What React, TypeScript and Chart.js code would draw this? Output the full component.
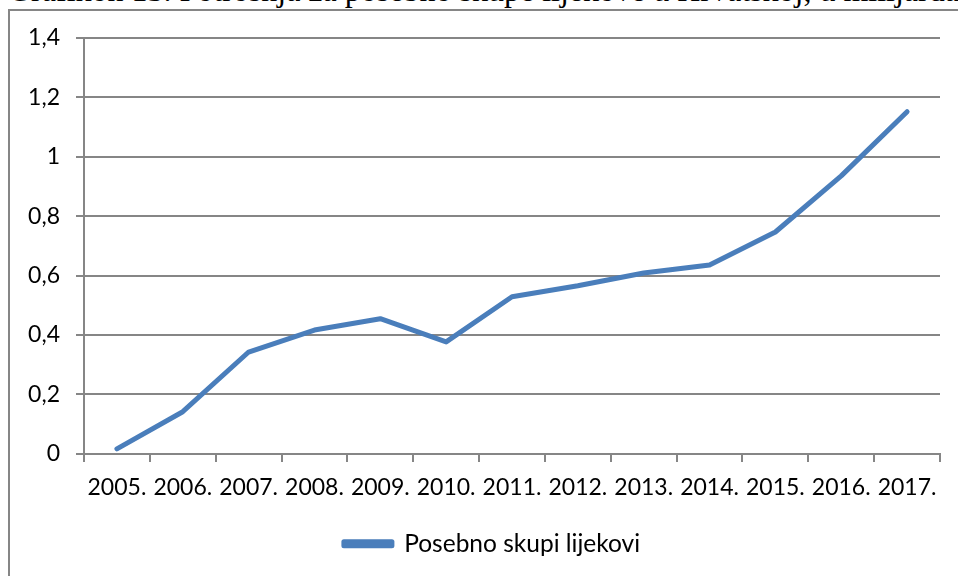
import React, { useEffect, useRef } from "react";
import { Chart, registerables } from "chart.js";

Chart.register(...registerables);

const categories = ["2005.", "2006.", "2007.", "2008.", "2009.", "2010.", "2011.", "2012.", "2013.", "2014.", "2015.", "2016.", "2017."];
const seriesName = "Posebno skupi lijekovi";
const seriesValues = [0.017, 0.142, 0.343, 0.417, 0.455, 0.377, 0.529, 0.566, 0.609, 0.636, 0.747, 0.936, 1.152];
const yMin = 0;
const yMax = 1.4;
const yStep = 0.2;
const titleText = "Grafikon 13. Potrošnja za posebno skupe lijekove u Hrvatskoj, u milijardama";

const FONT = "Lato, 'Open Sans', sans-serif";
const GRID = "#868686";
const BLUE = "#4A7EBB";

const legendShift = {
  id: "legendShift",
  afterLayout(chart: any) {
    if (chart.legend) {
      chart.legend.left += 22;
      chart.legend.right += 22;
    }
  },
};

export default function App() {
  const ref = useRef<HTMLCanvasElement | null>(null);

  useEffect(() => {
    if (!ref.current) return;
    const chart = new Chart(ref.current, {
      type: "line",
      data: {
        labels: categories,
        datasets: [
          {
            label: seriesName,
            data: seriesValues,
            borderColor: BLUE,
            backgroundColor: BLUE,
            borderWidth: 5,
            pointRadius: 0,
            pointHoverRadius: 0,
            tension: 0,
            borderCapStyle: "round",
            borderJoinStyle: "round",
          },
        ],
      },
      plugins: [legendShift],
      options: {
        animation: false,
        responsive: false,
        maintainAspectRatio: false,
        layout: { padding: { left: 0, right: 18, top: 38, bottom: 10 } },
        plugins: {
          tooltip: { enabled: false },
          legend: {
            position: "bottom",
            labels: {
              boxWidth: 48,
              boxHeight: 4,
              color: "#000",
              font: { family: FONT, size: 24.5 },
              padding: 18,
            },
          },
        },
        scales: {
          x: {
            type: "category",
            offset: true,
            grid: {
              offset: true,
              drawOnChartArea: false,
              drawTicks: true,
              tickLength: 8,
              color: GRID,
              lineWidth: 2,
            },
            border: { display: true, color: GRID, width: 2 },
            ticks: {
              color: "#000",
              font: { family: FONT, size: 23 },
              padding: 12,
              maxRotation: 0,
              autoSkip: false,
            },
          },
          y: {
            min: yMin,
            max: yMax,
            afterFit: (scale: any) => {
              scale.width = 84;
            },
            grid: {
              color: GRID,
              lineWidth: 2,
              drawTicks: true,
              tickLength: 8,
            },
            border: { display: true, color: GRID, width: 2 },
            ticks: {
              stepSize: yStep,
              color: "#000",
              font: { family: FONT, size: 23 },
              padding: 16,
              callback: (v: any) => String(Math.round(Number(v) * 10) / 10).replace(".", ","),
            },
          },
        },
      },
    });
    return () => chart.destroy();
  }, []);

  return (
    <div style={{ position: "fixed", left: 0, top: 0, width: 958, height: 576, overflow: "hidden", background: "#fff" }}>
      <div
        style={{
          position: "absolute",
          left: 8,
          top: -26,
          whiteSpace: "nowrap",
          fontFamily: "'Liberation Serif', serif",
          fontSize: 32,
          lineHeight: "32px",
          color: "#000",
        }}
      >
        {titleText}
      </div>
      <div
        style={{
          position: "absolute",
          left: 8,
          top: 9,
          width: 1100,
          height: 800,
          border: "2px solid #868686",
          boxSizing: "border-box",
          background: "#fff",
        }}
      />
      <canvas ref={ref} width={958} height={576} style={{ position: "absolute", left: 0, top: 0, width: 958, height: 576 }} />
    </div>
  );
}
